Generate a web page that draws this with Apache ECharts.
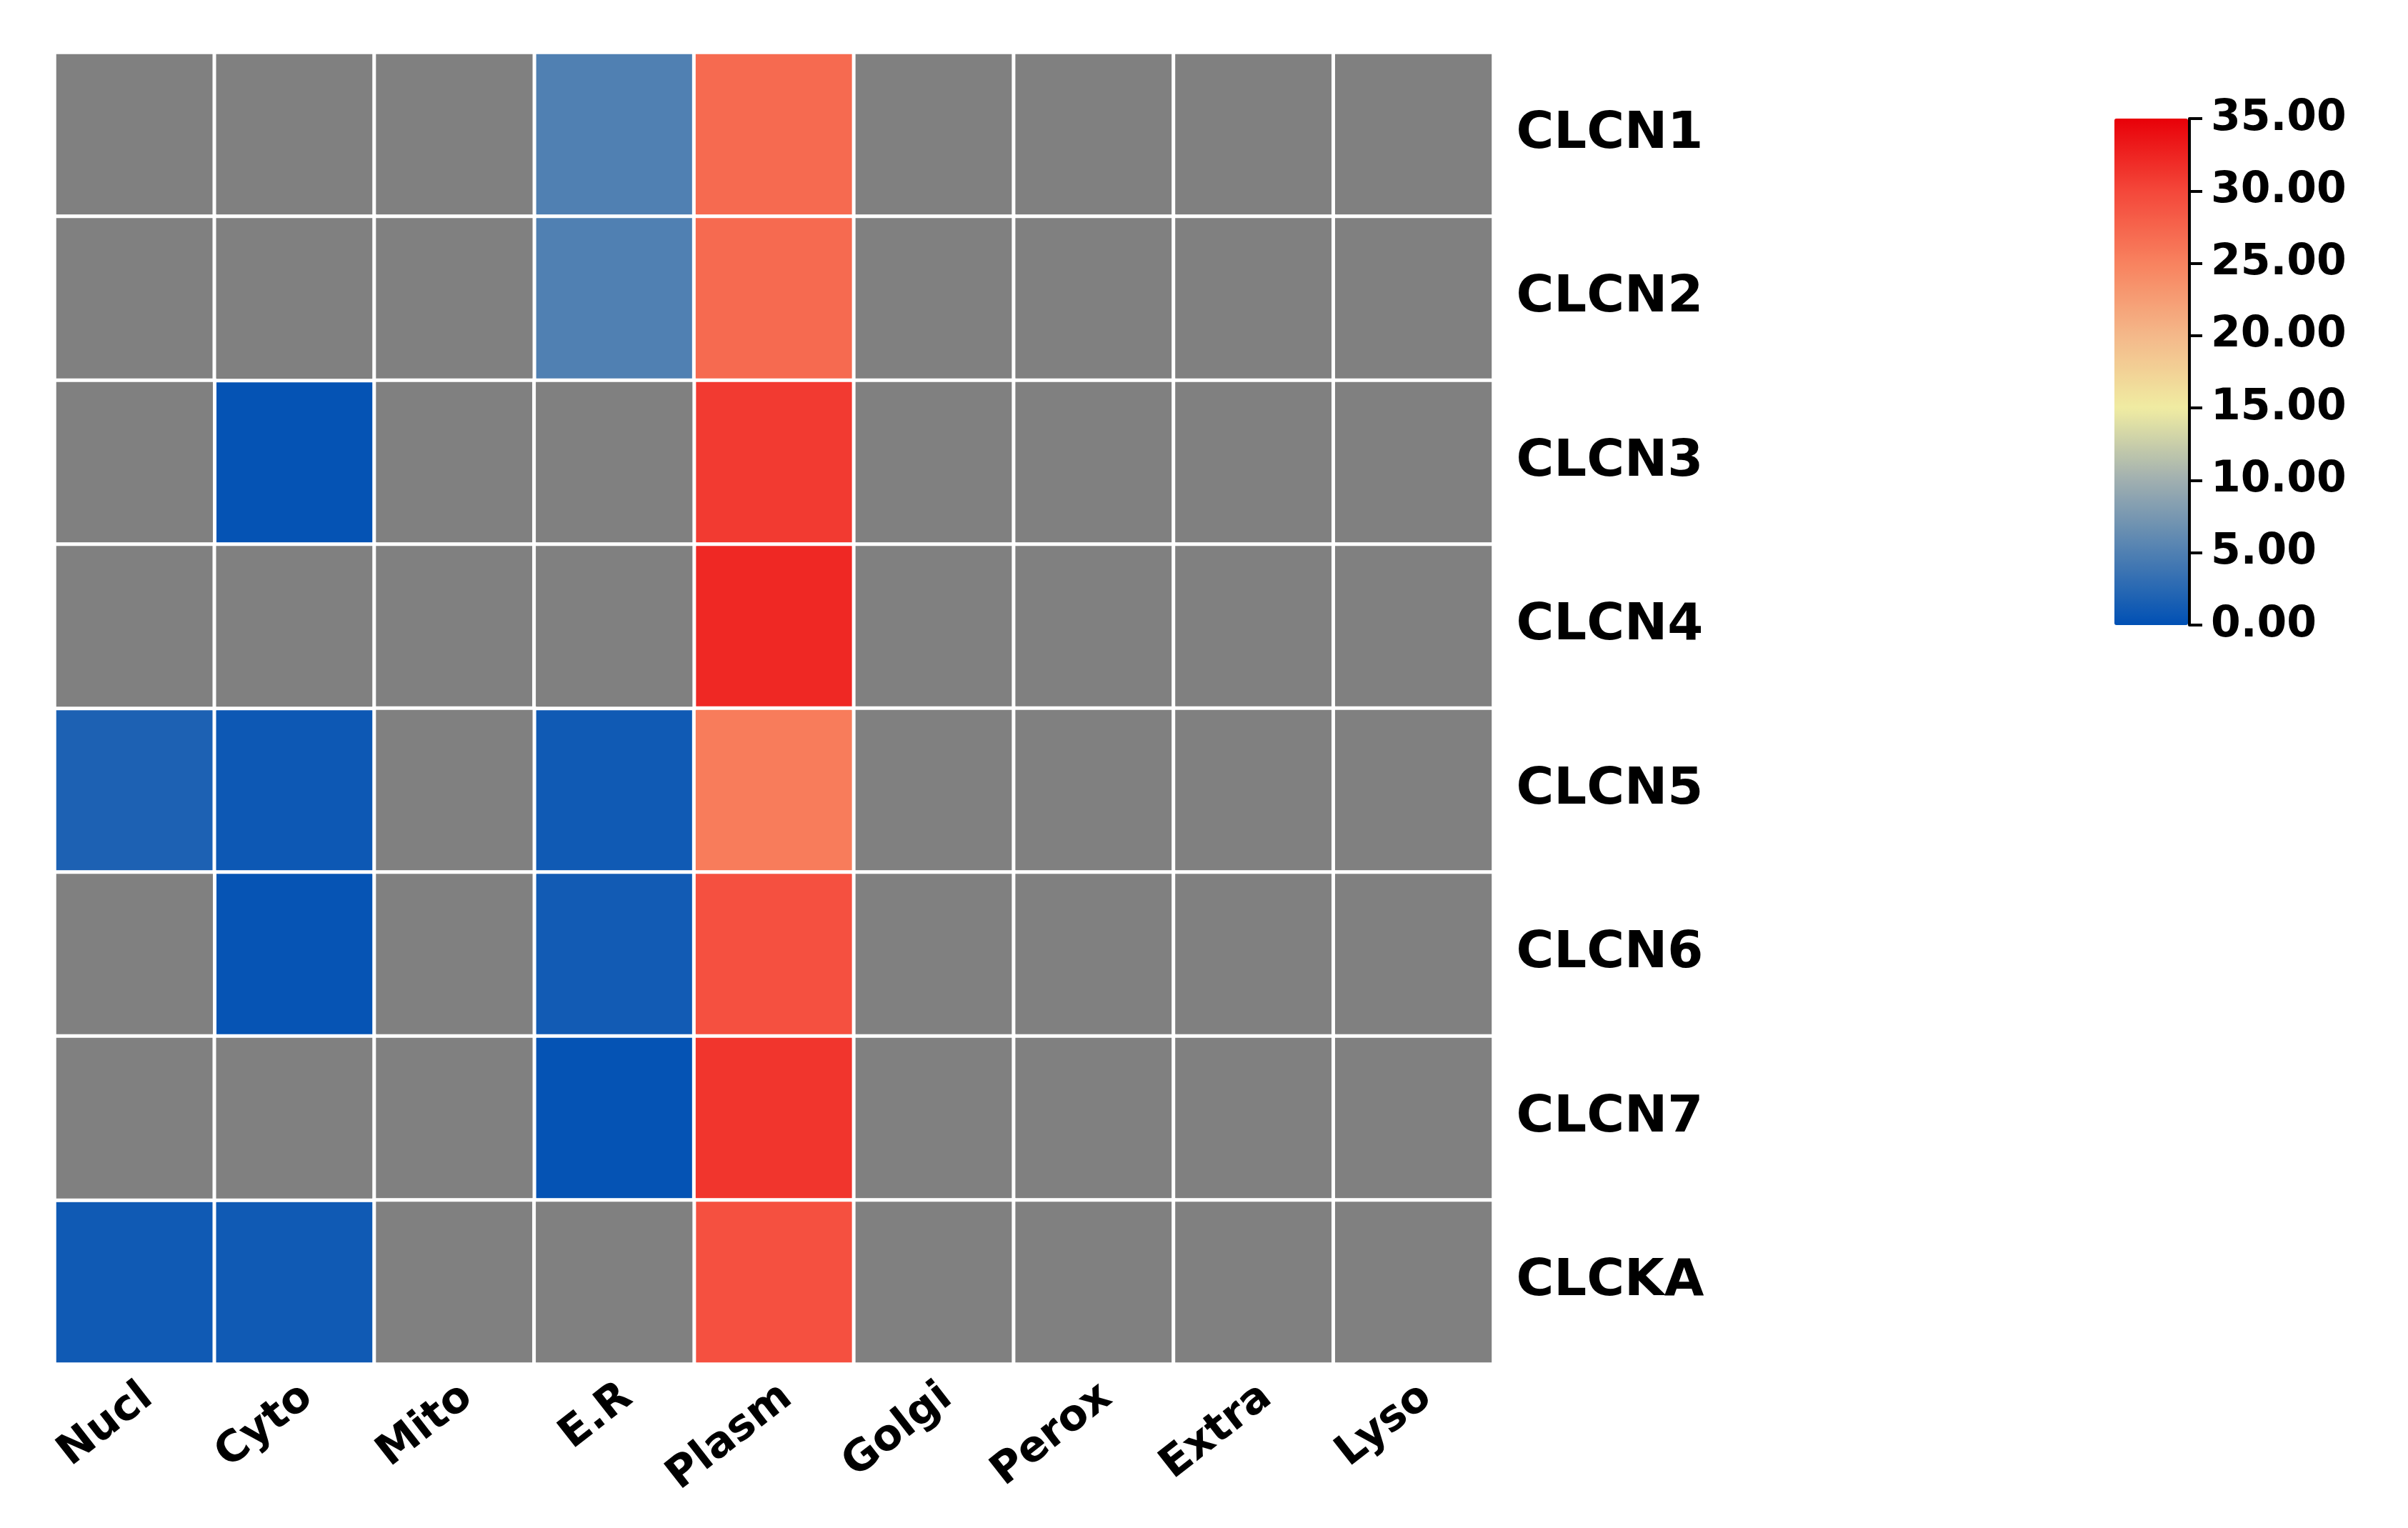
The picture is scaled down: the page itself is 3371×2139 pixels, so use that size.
<!DOCTYPE html>
<html>
<head>
<meta charset="utf-8">
<script src="https://cdn.jsdelivr.net/npm/echarts@6/dist/echarts.min.js"></script>
<style>
html,body{margin:0;padding:0;background:#fff;}
#chart{width:3371px;height:2139px;}
</style>
</head>
<body>
<div id="chart"></div>
<script>
// Categories
var locations = ['Nucl', 'Cyto', 'Mito', 'E.R', 'Plasm', 'Golgi', 'Perox', 'Extra', 'Lyso'];
var genes = ['CLCN1', 'CLCN2', 'CLCN3', 'CLCN4', 'CLCN5', 'CLCN6', 'CLCN7', 'CLCKA'];

// Values per gene (null = no prediction, drawn gray)
var CLCN1 = [null, null, null, 5.0, 27.0, null, null, null, null];
var CLCN2 = [null, null, null, 5.0, 27.0, null, null, null, null];
var CLCN3 = [null, 0.3, null, null, 30.9, null, null, null, null];
var CLCN4 = [null, null, null, null, 32.2, null, null, null, null];
var CLCN5 = [1.8, 0.8, null, 1.0, 25.5, null, null, null, null];
var CLCN6 = [null, 0.4, null, 1.1, 29.2, null, null, null, null];
var CLCN7 = [null, null, null, 0.3, 31.3, null, null, null, null];
var CLCKA = [1.0, 1.0, null, null, 29.2, null, null, null, null];

// Colour bar ticks
var scaleMin = 0, scaleMax = 35, scaleStep = 5;
var scaleColors = ['#0050b4', '#5080b2', '#a0afb0', '#f0eca2', '#f4b88a', '#f8825f', '#f4473a', '#e80008'];

var rows = [CLCN1, CLCN2, CLCN3, CLCN4, CLCN5, CLCN6, CLCN7, CLCKA];
var valueCells = [], naCells = [];
rows.forEach(function (r, yi) {
  r.forEach(function (v, xi) {
    if (v === null) naCells.push([xi, yi, 0]);
    else valueCells.push([xi, yi, v]);
  });
});

var FONT = 'DejaVu Sans';
var chart = echarts.init(document.getElementById('chart'), null, {renderer: 'canvas'});
chart.setOption({
  backgroundColor: '#ffffff',
  animation: false,
  grid: [
    {left: 76.5, top: 73.5, width: 2014, height: 1836, containLabel: false},
    {left: 2960, top: 166, width: 105, height: 709, containLabel: false}
  ],
  xAxis: [
    {
      type: 'category', gridIndex: 0, data: locations, position: 'bottom',
      axisLine: {show: false}, axisTick: {show: false}, splitLine: {show: false},
      axisLabel: {rotate: 38, margin: 16, verticalAlign: 'top', fontFamily: FONT, fontWeight: 'bold', fontSize: 60, color: '#000'}
    },
    {type: 'value', gridIndex: 1, show: false, min: 0, max: 1}
  ],
  yAxis: [
    {
      type: 'category', gridIndex: 0, data: genes, inverse: true, position: 'right',
      axisLine: {show: false}, axisTick: {show: false}, splitLine: {show: false},
      axisLabel: {margin: 32, fontFamily: FONT, fontWeight: 'bold', fontSize: 72, color: '#000', align: 'left'}
    },
    {
      type: 'value', gridIndex: 1, position: 'right', min: scaleMin, max: scaleMax, interval: scaleStep, z: 10,
      axisLine: {show: true, onZero: false, lineStyle: {color: '#000', width: 4}},
      axisTick: {show: true, inside: false, length: 18, lineStyle: {color: '#000', width: 4}},
      splitLine: {show: false},
      axisLabel: {margin: 30, fontFamily: FONT, fontWeight: 'bold', fontSize: 60, color: '#000',
        formatter: function (v) { return v.toFixed(2); }}
    }
  ],
  visualMap: {
    type: 'continuous', seriesIndex: 0, min: scaleMin, max: scaleMax,
    orient: 'vertical', left: 2960, top: 166, itemWidth: 103, itemHeight: 709,
    padding: 0, calculable: false, realtime: false, text: null, showLabel: false,
    hoverLink: false, z: 1,
    inRange: {color: scaleColors}
  },
  series: [
    {
      type: 'heatmap', xAxisIndex: 0, yAxisIndex: 0, data: valueCells,
      itemStyle: {borderColor: '#ffffff', borderWidth: 5},
      emphasis: {disabled: true}
    },
    {
      type: 'heatmap', xAxisIndex: 0, yAxisIndex: 0, data: naCells,
      itemStyle: {color: '#808080', borderColor: '#ffffff', borderWidth: 5},
      emphasis: {disabled: true}
    }
  ]
});
</script>
</body>
</html>
